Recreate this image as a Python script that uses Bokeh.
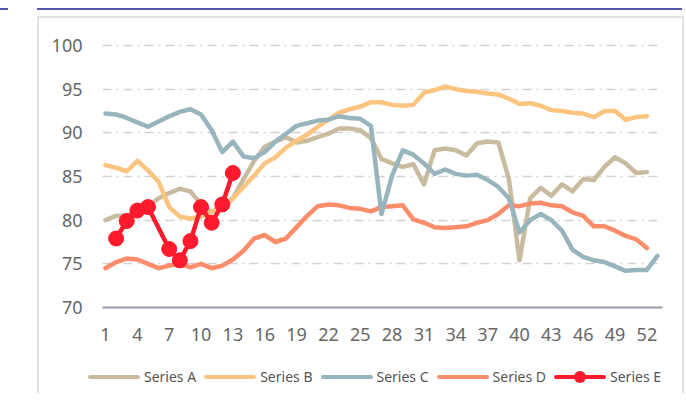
from bokeh.plotting import figure
from bokeh.models import (Range1d, FixedTicker, ColumnDataSource, Div)
from bokeh.layouts import column, row
from bokeh.embed import file_html
from bokeh.resources import INLINE

# ---- data ----
weeks = list(range(1, 54))
blue_vals = [92.2, 92.1, 91.7, 91.2, 90.7, 91.3, 91.9, 92.4, 92.7, 92.1,
             90.3, 87.8, 89.0, 87.3, 87.1, 87.8, 89.0, 89.9, 90.8, 91.1,
             91.4, 91.5, 91.9, 91.7, 91.6, 90.8, 80.7, 85.1, 88.0, 87.5,
             86.5, 85.3, 85.8, 85.3, 85.1, 85.2, 84.6, 83.8, 82.5, 78.6,
             80.0, 80.7, 80.0, 78.8, 76.6, 75.8, 75.4, 75.2, 74.7, 74.2,
             74.3, 74.3, 75.9]
orange_vals = [86.3, 86.0, 85.6, 86.8, 85.7, 84.4, 81.5, 80.4, 80.2, 80.4,
               81.0, 81.3, 82.5, 83.8, 85.1, 86.5, 87.2, 88.3, 89.1, 89.8,
               90.7, 91.5, 92.3, 92.7, 93.0, 93.5, 93.5, 93.2, 93.1, 93.2,
               94.6, 94.9, 95.3, 95.0, 94.8, 94.7, 94.5, 94.4, 93.9, 93.3,
               93.4, 93.1, 92.6, 92.5, 92.3, 92.2, 91.8, 92.5, 92.5, 91.5,
               91.8, 91.9]
tan_vals = [80.0, 80.5, 80.5, 81.1, 81.6, 82.5, 83.1, 83.6, 83.3, 81.8,
            80.9, 81.8, 82.5, 84.7, 86.8, 88.4, 89.0, 89.5, 88.9, 89.1,
            89.5, 89.9, 90.5, 90.5, 90.3, 89.4, 87.0, 86.5, 86.1, 86.4,
            84.1, 88.0, 88.2, 88.0, 87.4, 88.8, 89.0, 88.9, 84.7, 75.4,
            82.5, 83.7, 82.8, 84.1, 83.3, 84.7, 84.6, 86.1, 87.2, 86.5,
            85.4, 85.5]
salmon_vals = [74.5, 75.2, 75.6, 75.5, 75.0, 74.5, 74.8, 75.0, 74.6, 75.0,
               74.5, 74.8, 75.5, 76.5, 77.9, 78.3, 77.5, 77.9, 79.2, 80.5,
               81.6, 81.8, 81.7, 81.4, 81.3, 81.0, 81.5, 81.6, 81.7, 80.1,
               79.7, 79.2, 79.1, 79.2, 79.3, 79.7, 80.0, 80.7, 81.7, 81.6,
               81.9, 82.0, 81.7, 81.6, 80.9, 80.5, 79.3, 79.3, 78.8, 78.2,
               77.8, 76.8]
red_weeks = [2, 3, 4, 5, 7, 8, 9, 10, 11, 12, 13]
red_vals = [77.9, 79.9, 81.1, 81.5, 76.7, 75.4, 77.6, 81.5, 79.7, 81.8, 85.4]

series_names = ["Series A", "Series B", "Series C", "Series D", "Series E"]
series_colors = ["#c9bba0", "#fcc47e", "#98b5be", "#fc8d6a", "#fc1a2c"]
x_ticks = [1, 4, 7, 10, 13, 16, 19, 22, 25, 28, 31, 34, 37, 40, 43, 46, 49, 52]
y_ticks = [70, 75, 80, 85, 90, 95, 100]

FONT = "Noto Sans"
LW = 4.5

# ---- main chart ----
p = figure(width=643, height=330, output_backend="svg", toolbar_location=None,
           x_range=Range1d(0.717, 53.47), y_range=Range1d(70, 102.06),
           min_border_left=63, min_border_right=20, min_border_top=9,
           min_border_bottom=41)
p.outline_line_color = None
p.background_fill_color = "white"
p.border_fill_color = "white"

p.xaxis.ticker = FixedTicker(ticks=x_ticks)
p.yaxis.ticker = FixedTicker(ticks=y_ticks)
for ax in (p.xaxis, p.yaxis):
    ax.major_tick_line_color = None
    ax.minor_tick_line_color = None
    ax.major_label_text_font = FONT
    ax.major_label_text_font_size = "18px"
    ax.major_label_text_color = "#666666"
p.yaxis.axis_line_color = None
p.yaxis.major_label_standoff = 14
p.xaxis.axis_line_color = "#a09aa8"
p.xaxis.axis_line_width = 2
p.xaxis.major_label_standoff = 14

p.xgrid.grid_line_color = None
p.ygrid.grid_line_color = "#d2d2d2"
p.ygrid.grid_line_width = 1.5
p.ygrid.grid_line_dash = "9 5 2 5"

p.line(weeks[:len(tan_vals)], tan_vals, line_color=series_colors[0], line_width=LW,
       line_join="round", line_cap="round")
p.line(weeks[:len(orange_vals)], orange_vals, line_color=series_colors[1], line_width=LW,
       line_join="round", line_cap="round")
p.line(weeks[:len(salmon_vals)], salmon_vals, line_color=series_colors[3], line_width=LW,
       line_join="round", line_cap="round")
p.line(weeks, blue_vals, line_color=series_colors[2], line_width=LW,
       line_join="round", line_cap="round")
red_src = ColumnDataSource(dict(x=red_weeks, y=red_vals))
p.line("x", "y", source=red_src, line_color=series_colors[4], line_width=LW,
       line_join="round", line_cap="round")
p.scatter("x", "y", source=red_src, size=15, fill_color=series_colors[4],
          line_color=series_colors[4])

# ---- legend strip (HTML, below the chart inside the same card) ----
item_html = []
for i, (name, col) in enumerate(zip(series_names, series_colors)):
    marker = ""
    if i == 4:
        marker = (f'<span style="position:absolute;left:20px;top:-4px;width:12px;height:12px;'
                  f'border-radius:50%;background:{col};"></span>')
    item_html.append(
        f'<span style="display:inline-flex;align-items:center;margin-right:8px;">'
        f'<span style="position:relative;display:inline-block;width:52px;height:4px;'
        f'background:{col};border-radius:2px;">{marker}</span>'
        f'<span style="margin-left:4px;">{name}</span></span>')
legend_div = Div(
    text=('<div style="display:flex;align-items:center;white-space:nowrap;'
          'font-family:\'Noto Sans\';font-size:14px;color:#555;line-height:20px;'
          'padding-top:19px;padding-left:49px;">' + "".join(item_html) + '</div>'),
    width=643, height=45, margin=(0, 0, 0, 0))

accent_small = Div(text="", width=8, height=2, margin=(8, 0, 0, 0),
                   styles={"background-color": "#5558a8"})
accent = Div(text="", width=645, height=2, margin=(8, 0, 0, 29),
             styles={"background-color": "#5558a8"})
top = row(accent_small, accent)
card = column(p, legend_div, margin=(6, 0, 0, 37),
              styles={"border-left": "2px solid #e3e3e3", "border-top": "2px solid #e3e3e3",
                      "border-right": "2px solid #e3e3e3"})
page = column(top, card)

open("out.html", "w").write(file_html(page, INLINE))
